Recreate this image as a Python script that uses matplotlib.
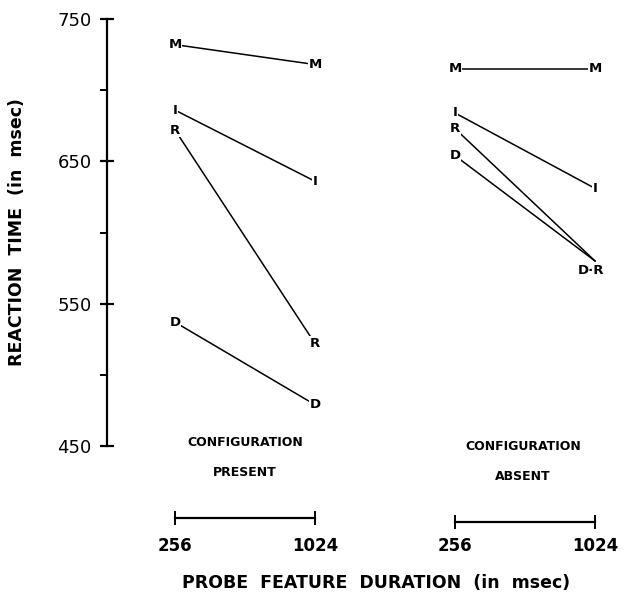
import matplotlib
matplotlib.use("Agg")
import matplotlib.pyplot as plt
import matplotlib.transforms as mtransforms

# ---- data ----
durations = ["256", "1024"]
conditions = ["CONFIGURATION", "PRESENT", "CONFIGURATION", "ABSENT"]
features = ["M", "I", "R", "D"]
present_256 = [732, 686, 672, 537]
present_1024 = [718, 636, 522, 479]
absent_256 = [715, 684, 673, 654]
absent_1024 = [715, 631, 580, 580]
y_ticks = [450, 550, 650, 750]
y_minor = [500, 600, 700]

W, H = 632, 595
fig = plt.figure(figsize=(W / 100, H / 100), dpi=100)
ax = fig.add_axes([107 / W, 1 - 446 / H, (W - 107) / W, (446 - 19) / H])
ax.set_xlim((107 - 175) / 140, (W - 175) / 140)
ax.set_ylim(450, 750)

for s in ["top", "right", "bottom"]:
    ax.spines[s].set_visible(False)
ax.spines["left"].set_linewidth(1.6)
ax.set_xticks([])
ax.set_yticks(y_ticks)
ax.set_yticks(y_minor, minor=True)
ax.tick_params(axis="y", which="major", direction="inout", length=10, width=1.6,
               labelsize=13, pad=6)
ax.tick_params(axis="y", which="minor", direction="out", length=5, width=1.4)

lab_kw = dict(ha="center", va="center", fontsize=9.5, fontweight="bold",
              bbox=dict(facecolor="white", edgecolor="none", pad=0.6), zorder=3)

panels = [(0, present_256, present_1024), (2, absent_256, absent_1024)]
for x0, v1, v2 in panels:
    for f, a, b in zip(features, v1, v2):
        ax.plot([x0, x0 + 1], [a, b], color="black", lw=1.1, zorder=2)
        ax.text(x0, a, f, **lab_kw)

# right-hand labels
for f, b in zip(features, present_1024):
    ax.text(1, b, f, **lab_kw)
for f, b in zip(features[:2], absent_1024[:2]):
    ax.text(3, b, f, **lab_kw)
ax.annotate("D·R", xy=(3, absent_1024[3]), xytext=(-3, -7), textcoords="offset points",
            **lab_kw)

# condition labels (figure pixel positions)
cond_pos = [(245, 442), (245, 473), (523, 446), (523, 476)]
for (px, py), txt in zip(cond_pos, conditions):
    fig.text(px / W, 1 - py / H, txt, ha="center", va="center",
             fontsize=9, fontweight="bold")

# duration brackets below axes
trans = mtransforms.blended_transform_factory(ax.transData, fig.transFigure)
for x0, yb in zip([0, 2], [518, 522]):
    yf = 1 - yb / H
    dy = 6 / H
    ax.plot([x0, x0 + 1], [yf, yf], color="black", lw=1.6, transform=trans, clip_on=False)
    for xx in (x0, x0 + 1):
        ax.plot([xx, xx], [yf - dy, yf + dy], color="black", lw=1.4, transform=trans,
                clip_on=False)
    for xx, d in zip((x0, x0 + 1), durations):
        ax.text(xx, 1 - 546 / H, d, transform=trans, ha="center", va="center",
                fontsize=12, fontweight="bold")

fig.text(376 / W, 1 - 583 / H, "PROBE  FEATURE  DURATION  (in  msec)", ha="center",
         va="center", fontsize=12.5, fontweight="bold")
fig.text(17 / W, 1 - 232 / H, "REACTION  TIME  (in  msec)", ha="center", va="center",
         rotation=90, fontsize=12.5, fontweight="bold")

fig.savefig("out.png", dpi=100)
